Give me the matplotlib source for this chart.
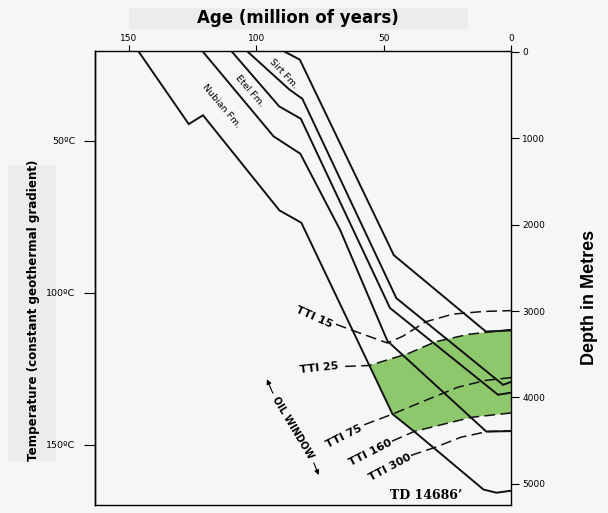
import numpy as np
import matplotlib.pyplot as plt
from matplotlib import font_manager
from matplotlib.patches import Rectangle

# burial curves: age (Ma) and depth (m) of each horizon
h1_age = [146.1, 126.5, 120.9, 90.9, 82.3, 46.5, 38.0, 10.8, 5.7, 0.0]
h1_depth = [0, 836, 734, 1835, 1978, 4193, 4394, 5066, 5103, 5080]
h2_age = [120.9, 93.2, 82.7, 67.0, 48.5, 9.7, 0.0]
h2_depth = [0, 978, 1179, 2066, 3347, 4395, 4390]
h3_age = [109.5, 91.0, 82.5, 47.5, 5.1, 0.0]
h3_depth = [0, 631, 774, 2965, 3969, 3945]
h4_age = [103.3, 87.0, 81.9, 45.0, 3.1, 0.0]
h4_depth = [0, 436, 543, 2851, 3854, 3820]
h5_age = [88.7, 82.9, 46.0, 9.9, 0.0]
h5_depth = [0, 90, 2353, 3237, 3225]

# TTI isolines
tti15_age = [68.7, 59.8, 48.5, 42.5, 33.4, 22.7, 10.9, 0.0]
tti15_depth = [3153, 3250, 3370, 3292, 3123, 3035, 3005, 2995]
tti25_age = [65.1, 55.6, 40.2, 29.6, 16.6, 0.0]
tti25_depth = [3641, 3630, 3490, 3355, 3269, 3215]
tti75_age = [57.6, 46.5, 33.8, 20.8, 10.2, 0.0]
tti75_depth = [4316, 4193, 4037, 3881, 3804, 3770]
tti160_age = [46.7, 38.0, 26.1, 15.5, 0.0]
tti160_depth = [4506, 4394, 4307, 4230, 4180]
tti300_age = [39.3, 30.2, 19.6, 9.3, 0.0]
tti300_depth = [4671, 4582, 4460, 4395, 4385]

age_ticks = [150, 100, 50, 0]
depth_ticks = [0, 1000, 2000, 3000, 4000, 5000]
temp_ticks = [50, 100, 150]
temp_labels = ['50ºC', '100ºC', '150ºC']

# constant geothermal gradient
surface_temp = 20.8
gradient = 0.028426


def depth_to_temp(d):
    return surface_temp + gradient * np.asarray(d)


def temp_to_depth(t):
    return (np.asarray(t) - surface_temp) / gradient


bg = '#f5f6f6'
box = '#ececec'
green = '#8ec86c'

names = {f.name for f in font_manager.fontManager.ttflist}
if 'Liberation Sans Narrow' in names:
    narrow, narrow_size = 'Liberation Sans Narrow', 12
else:
    narrow, narrow_size = 'DejaVu Sans', 8.6

fig = plt.figure(figsize=(6.08, 5.13), dpi=100)
fig.patch.set_facecolor(bg)

# grey panels behind the two outer titles
fig.patches.append(Rectangle((129 / 608, 1 - 28 / 513), 338 / 608, 20 / 513,
                             transform=fig.transFigure, color=box, zorder=-1))
fig.patches.append(Rectangle((8 / 608, 1 - 460 / 513), 47 / 608, 295 / 513,
                             transform=fig.transFigure, color=box, zorder=-1))

ax = fig.add_axes([95 / 608, 8 / 513, 416 / 608, 454 / 513])
ax.set_facecolor(bg)
ax.set_xlim(163.3, 0)
ax.set_ylim(5245, -10)

# oil window between TTI 25 and TTI 160, cut by the deepest horizon
win_age = tti25_age[1:] + tti160_age[::-1][:-1] + [h1_age[5]]
win_depth = tti25_depth[1:] + tti160_depth[::-1][:-1] + [h1_depth[5]]
ax.fill(win_age, win_depth, color=green, lw=0, zorder=1)

for a, d in [(h1_age, h1_depth), (h2_age, h2_depth), (h3_age, h3_depth),
             (h4_age, h4_depth), (h5_age, h5_depth)]:
    ax.plot(a, d, color='#111111', lw=1.4, zorder=3, solid_joinstyle='miter')

for a, d in [(tti15_age, tti15_depth), (tti25_age, tti25_depth),
             (tti75_age, tti75_depth), (tti160_age, tti160_depth),
             (tti300_age, tti300_depth)]:
    ax.plot(a, d, color='#111111', lw=1.1, ls=(0, (7, 3.5)), zorder=2)

for s in ax.spines.values():
    s.set_linewidth(1.0)

ax.xaxis.tick_top()
ax.set_xticks(age_ticks)
ax.set_xticklabels([str(t) for t in age_ticks])
ax.tick_params(axis='x', direction='out', length=4, width=0.8, labelsize=6.5, pad=2)
ax.yaxis.tick_right()
ax.set_yticks(depth_ticks)
ax.set_yticklabels([str(t) for t in depth_ticks])
ax.tick_params(axis='y', direction='out', length=6, width=0.8, labelsize=6.5, pad=2)

sec = ax.secondary_yaxis('left', functions=(depth_to_temp, temp_to_depth))
sec.set_yticks(temp_ticks)
sec.set_yticklabels(temp_labels)
sec.tick_params(direction='out', length=8, width=0.8, labelsize=6.8, pad=6)
sec.spines['left'].set_linewidth(1.0)

# formation names
fm = dict(fontsize=6.8, ha='center', va='center', rotation_mode='anchor', zorder=4)
ax.text(89.3, 250, 'Sirt Fm.', rotation=-47, **fm)
ax.text(102.7, 452, 'Etel Fm.', rotation=-49, **fm)
ax.text(113.8, 633, 'Nubian Fm.', rotation=-50, **fm)

tti = dict(fontsize=8, fontweight='bold', ha='center', va='center',
           rotation_mode='anchor', zorder=4)
ax.text(77.3, 3068, 'TTI 15', rotation=-24, **tti)
ax.text(75.3, 3656, 'TTI 25', rotation=6, **tti)
ax.text(65.5, 4451, 'TTI 75', rotation=27, **tti)
ax.text(55.0, 4641, 'TTI 160', rotation=27, **tti)
ax.text(47.6, 4807, 'TTI 300', rotation=28, **tti)

ax.text(33.3, 5137, 'TD 14686’', family='DejaVu Serif', fontweight='bold',
        fontsize=9, ha='center', va='center')

ax.text(85.5, 4350, 'OIL WINDOW', rotation=-59, fontsize=7, fontweight='bold',
        ha='center', va='center', rotation_mode='anchor')
arrow = dict(arrowstyle='-|>', lw=0.8, color='k', mutation_scale=7, shrinkA=0, shrinkB=0)
ax.annotate('', xy=(95.8, 3789), xytext=(93.5, 3951), arrowprops=arrow)
ax.annotate('', xy=(75.5, 4898), xytext=(77.4, 4758), arrowprops=arrow)

# axis titles
fig.text(298 / 608, 1 - 18 / 513, 'Age (million of years)', fontsize=12,
         fontweight='bold', ha='center', va='center')
fig.text(34 / 608, 1 - 310 / 513, 'Temperature (constant geothermal gradient)',
         family=narrow, fontsize=narrow_size, fontweight='bold', rotation=90,
         ha='center', va='center')
fig.text(590 / 608, 1 - 297 / 513, 'Depth in Metres', family='Liberation Sans',
         fontsize=13, fontweight='bold', rotation=90, ha='center', va='center')

fig.savefig('out.png', dpi=100, facecolor=bg)
